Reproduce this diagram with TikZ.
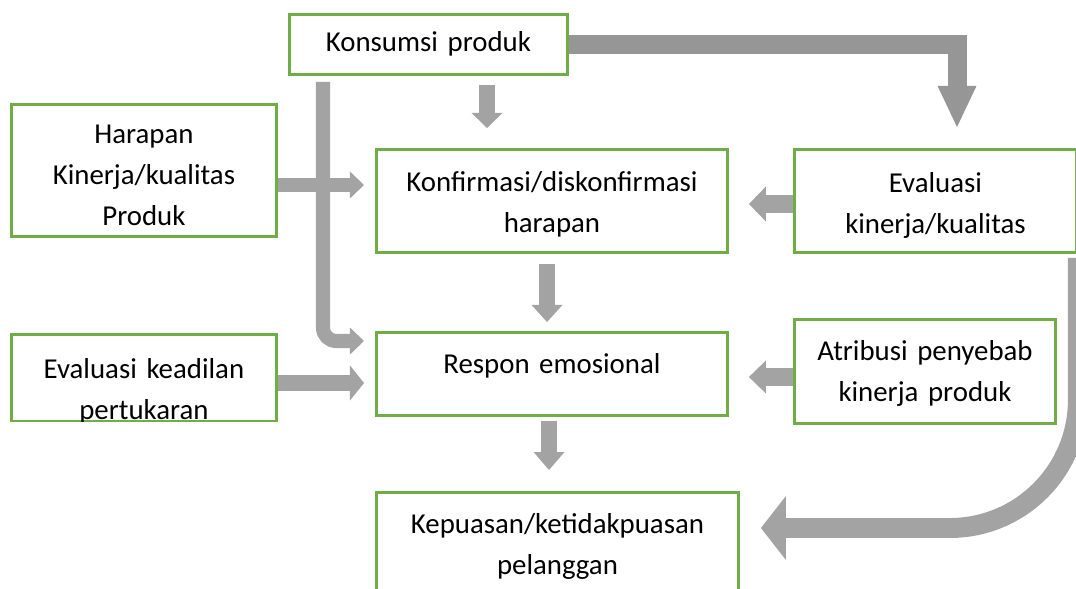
\documentclass[tikz,border=0pt]{standalone}
\usepackage{fontspec}
\setmainfont{Carlito}
\usepackage{tikz}
\usetikzlibrary{positioning,calc,arrows.meta}
\definecolor{boxgreen}{RGB}{112,173,71}
\definecolor{arrowgray}{RGB}{163,163,163}
\definecolor{arrowdark}{RGB}{150,150,150}

\begin{document}
\begin{tikzpicture}[x=0.025cm, y=-0.025cm,
    box/.style={draw=boxgreen, line width=2pt, inner sep=0pt, align=center,
      anchor=north west, font=\fontsize{20.5pt}{29.2pt}\selectfont},
    flow/.style n args={3}{draw=arrowgray, line width=#1,
      -{Triangle[width=#2, length=#3, line width=0pt]}}]
    \useasboundingbox (0,0) rectangle (1076,589);
    \clip (0,0) rectangle (1076,589);
    % boxes
    \node[box, text width=6.95cm, text height=0.925cm, text depth=0.575cm]
      (konsumsi) at (288,13) {Konsumsi produk};
    \node[box, text width=6.625cm, text height=0.975cm, text depth=2.325cm]
      (harapan) at (10,103) {Harapan\\Kinerja/kualitas\\Produk};
    \node[box, text width=8.775cm, text height=1.05cm, text depth=1.525cm]
      (konfirmasi) at (375,148) {Konfirmasi/diskonfirmasi\\harapan};
    \node[box, text width=7.05cm, text height=1.075cm, text depth=1.5cm]
      (evalkinerja) at (793,148) {Evaluasi\\kinerja/kualitas};
    % second line runs out of its box and is cut off
    \begin{scope}
      \clip (0,0) rectangle (1076,421.5);
      \node[box, text width=6.625cm, text height=1.1cm, text depth=1.075cm]
        (keadilan) at (10,333) {Evaluasi keadilan\\pertukaran};
    \end{scope}
    \node[box, text width=8.775cm, text height=1.025cm, text depth=1.05cm]
      (respon) at (375,331) {Respon emosional};
    \node[box, text width=6.525cm, text height=1.025cm, text depth=1.575cm]
      (atribusi) at (793,318) {Atribusi penyebab\\kinerja produk};
    \node[box, text width=9.05cm, text height=1.025cm, text depth=1.975cm]
      (kepuasan) at (375,491) {Kepuasan/ketidakpuasan\\pelanggan};
    % arrows from the top box
    \draw[flow={10.7pt}{22pt}{10.7pt}]
      ($(konsumsi.south west)+(199,9)$) -- ($(konfirmasi.north west)+(112,-20)$);
    \draw[flow={13.5pt}{27.7pt}{29.2pt}, draw=arrowdark]
      (konsumsi.east) -| ($(evalkinerja.north west)+(164,-21)$);
    \draw[flow={10pt}{19.2pt}{10pt}, rounded corners=0.33cm]
      ($(konsumsi.south west)+(35,6)$) |- ($(respon.north west)+(-11,10)$);
    % arrows into the middle column
    \draw[flow={10pt}{19.2pt}{10pt}]
      ($(harapan.north east)+(0,82)$) -- ($(konfirmasi.north west)+(-11,37)$);
    \draw[flow={12.1pt}{24.9pt}{12.1pt}]
      ($(evalkinerja.north west)+(0,56)$) -- ($(konfirmasi.north east)+(20,56)$);
    \draw[flow={10.7pt}{22pt}{12.1pt}]
      ($(konfirmasi.south west)+(172,10)$) -- ($(respon.north west)+(172,-9)$);
    \draw[flow={11.4pt}{24.9pt}{10pt}]
      ($(keadilan.north east)+(0,50)$) -- ($(respon.north west)+(-11,52)$);
    \draw[flow={12.1pt}{23.5pt}{12.1pt}]
      ($(atribusi.north west)+(0,59)$) -- ($(respon.north east)+(20,46)$);
    \draw[flow={11.4pt}{22pt}{12.8pt}]
      ($(respon.south west)+(174,4)$) -- ($(kepuasan.north west)+(174,-21)$);
    % big curved arrow on the right
    \draw[flow={14.2pt}{45.5pt}{17.8pt}, rounded corners=3.2cm]
      ($(evalkinerja.south east)+(0,4)$) |- ($(kepuasan.north east)+(21,37)$);
  \end{tikzpicture}
\end{document}
